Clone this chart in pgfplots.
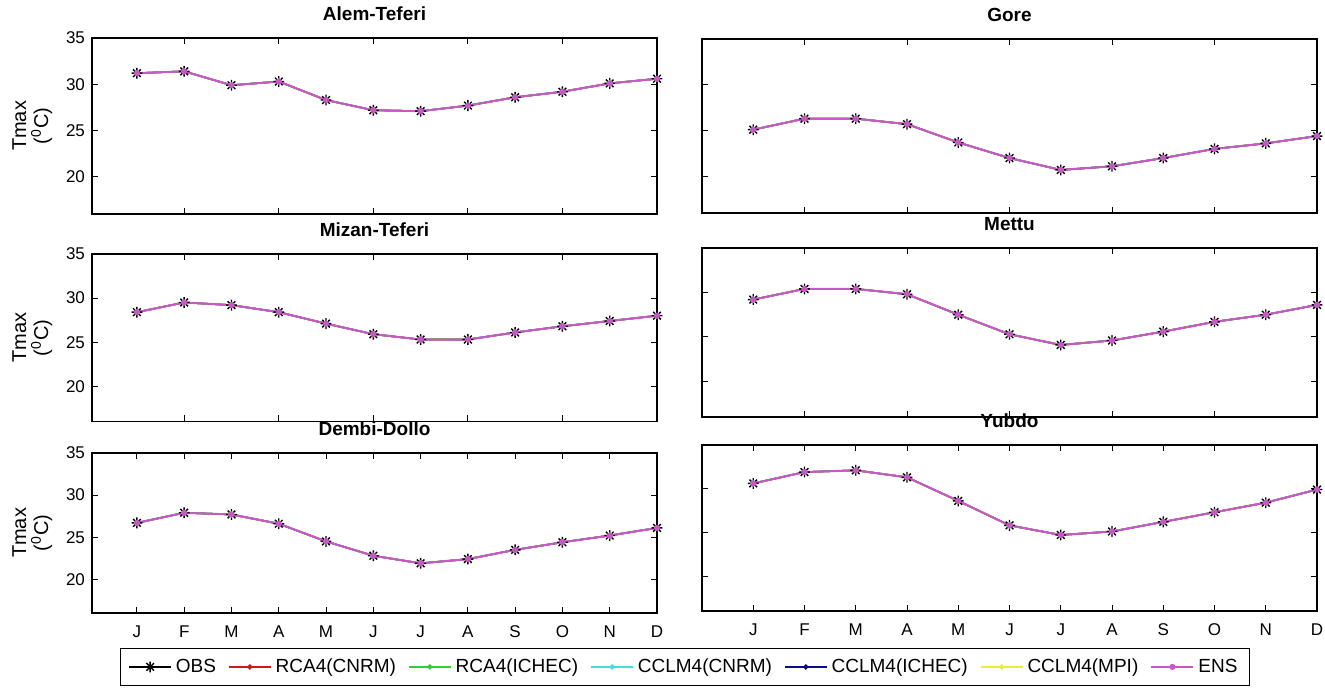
\documentclass[border=0pt]{standalone}
\usepackage{fontspec}
\setmainfont{Liberation Sans}
\usepackage{pgfplots}
\usepackage{pgfplotstable}
\pgfplotsset{compat=1.18}

\definecolor{rcacnrm}{rgb}{0.80,0.10,0.10}
\definecolor{rcaichec}{rgb}{0.20,0.80,0.20}
\definecolor{cclmcnrm}{rgb}{0.30,0.85,0.85}
\definecolor{cclmichec}{rgb}{0.05,0.05,0.50}
\definecolor{cclmmpi}{rgb}{0.92,0.92,0.25}
\definecolor{ens}{rgb}{0.78,0.35,0.78}

\pgfdeclareplotmark{mstar}{%
  \pgfpathmoveto{\pgfqpoint{-\pgfplotmarksize}{0pt}}\pgfpathlineto{\pgfqpoint{\pgfplotmarksize}{0pt}}%
  \pgfpathmoveto{\pgfqpoint{0pt}{-\pgfplotmarksize}}\pgfpathlineto{\pgfqpoint{0pt}{\pgfplotmarksize}}%
  \pgfpathmoveto{\pgfqpoint{-0.707\pgfplotmarksize}{-0.707\pgfplotmarksize}}\pgfpathlineto{\pgfqpoint{0.707\pgfplotmarksize}{0.707\pgfplotmarksize}}%
  \pgfpathmoveto{\pgfqpoint{-0.707\pgfplotmarksize}{0.707\pgfplotmarksize}}\pgfpathlineto{\pgfqpoint{0.707\pgfplotmarksize}{-0.707\pgfplotmarksize}}%
  \pgfusepathqstroke}

% month index m, Tmax value v (all series coincide in the figure)
\pgfplotstableread{
m v
1 31.2
2 31.4
3 29.9
4 30.3
5 28.3
6 27.2
7 27.1
8 27.7
9 28.6
10 29.2
11 30.1
12 30.6
}\alem
\pgfplotstableread{
m v
1 25.1
2 26.3
3 26.3
4 25.7
5 23.7
6 22.0
7 20.7
8 21.1
9 22.0
10 23.0
11 23.6
12 24.4
}\gore
\pgfplotstableread{
m v
1 28.4
2 29.5
3 29.2
4 28.4
5 27.1
6 25.9
7 25.3
8 25.3
9 26.1
10 26.8
11 27.4
12 28.0
}\mizan
\pgfplotstableread{
m v
1 29.2
2 30.4
3 30.4
4 29.8
5 27.5
6 25.3
7 24.1
8 24.6
9 25.6
10 26.7
11 27.5
12 28.6
}\mettu
\pgfplotstableread{
m v
1 26.7
2 27.9
3 27.7
4 26.6
5 24.5
6 22.8
7 21.9
8 22.4
9 23.5
10 24.4
11 25.2
12 26.1
}\dembi
\pgfplotstableread{
m v
1 30.6
2 31.9
3 32.1
4 31.3
5 28.6
6 25.8
7 24.7
8 25.1
9 26.2
10 27.3
11 28.4
12 29.9
}\yubdo

\newcommand{\allseries}[1]{%
  \addplot[black, line width=0.6pt, mark=mstar, mark size=2.7pt, mark options={line width=0.7pt}] table[x=m,y=v]{#1};
  \addplot[rcacnrm, line width=0.8pt, mark=*, mark size=0.9pt] table[x=m,y=v]{#1};
  \addplot[rcaichec, line width=0.8pt, mark=*, mark size=0.9pt] table[x=m,y=v]{#1};
  \addplot[cclmcnrm, line width=0.8pt, mark=*, mark size=0.9pt] table[x=m,y=v]{#1};
  \addplot[cclmichec, line width=0.8pt, mark=*, mark size=0.9pt] table[x=m,y=v]{#1};
  \addplot[cclmmpi, line width=0.8pt, mark=*, mark size=0.9pt] table[x=m,y=v]{#1};
  \addplot[ens, line width=1pt, mark=*, mark size=1.0pt] table[x=m,y=v]{#1};
}

\pgfplotsset{
  panel/.style={
    scale only axis, clip=false,
    xmin=0.05, xmax=12, ymin=16, ymax=35,
    ytick={20,25,30,35},
    tick align=inside, major tick length=3pt,
    tick style={black, line width=0.5pt},
    axis line style={line width=0.6pt},
    title style={font=\bfseries\fontsize{9.5}{11}\selectfont, yshift=-1pt},
    ticklabel style={font=\fontsize{8.5}{10}\selectfont},
    /pgf/number format/assume math mode=true,
    xtick={2,4,6,8,10,12}, xticklabels={},
  },
  leftp/.style={
    ylabel={Tmax\\(\textsuperscript{0}C)},
    ylabel style={font=\fontsize{10}{11}\selectfont, align=center, at={(axis description cs:-0.058,0.5)}, anchor=south},
  },
  rightp/.style={xmin=0, yticklabels={}},
  bottomp/.style={xtick={1,2,3,4,5,6,7,8,9,10,11,12},
    xticklabels={J,F,M,A,M,J,J,A,S,O,N,D},
    xticklabel style={yshift=-3pt}},
}

\begin{document}
\begin{tikzpicture}
\useasboundingbox (0,0) rectangle (662.5pt,344pt);

\begin{axis}[panel, leftp, at={(46pt,237pt)}, anchor=south west, width=282.5pt, height=88pt, title={Alem-Teferi}]
\allseries{\alem}
\end{axis}

\begin{axis}[panel, rightp, at={(351pt,237.5pt)}, anchor=south west, width=307.5pt, height=87pt, title={Gore}]
\allseries{\gore}
\end{axis}

\begin{axis}[panel, leftp, at={(46pt,133.25pt)}, anchor=south west, width=282.5pt, height=83.75pt, title={Mizan-Teferi}]
\allseries{\mizan}
\end{axis}

\begin{axis}[panel, rightp, at={(351pt,135.5pt)}, anchor=south west, width=307.5pt, height=84.5pt, title={Mettu}]
\allseries{\mettu}
\end{axis}

\begin{axis}[panel, leftp, bottomp, at={(46pt,37.5pt)}, anchor=south west, width=282.5pt, height=80pt, title={Dembi-Dollo},
  legend columns=7,
  legend style={at={(axis description cs:1.0496,-0.219)}, anchor=north, draw=black, line width=0.5pt,
    font=\fontsize{9.5}{11}\selectfont, inner xsep=4pt, inner ysep=3pt,
    /tikz/every even column/.append style={column sep=4pt}},
  legend image code/.code={\draw[mark repeat=2,mark phase=2,#1] plot coordinates {(0cm,0cm) (0.37cm,0cm) (0.74cm,0cm)};},
  legend cell align=left]
\allseries{\dembi}
\legend{OBS,RCA4(CNRM),RCA4(ICHEC),CCLM4(CNRM),CCLM4(ICHEC),CCLM4(MPI),ENS}
\end{axis}

\begin{axis}[panel, rightp, bottomp, at={(351pt,38.5pt)}, anchor=south west, width=307.5pt, height=83pt, title={Yubdo}]
\allseries{\yubdo}
\end{axis}
\end{tikzpicture}
\end{document}
